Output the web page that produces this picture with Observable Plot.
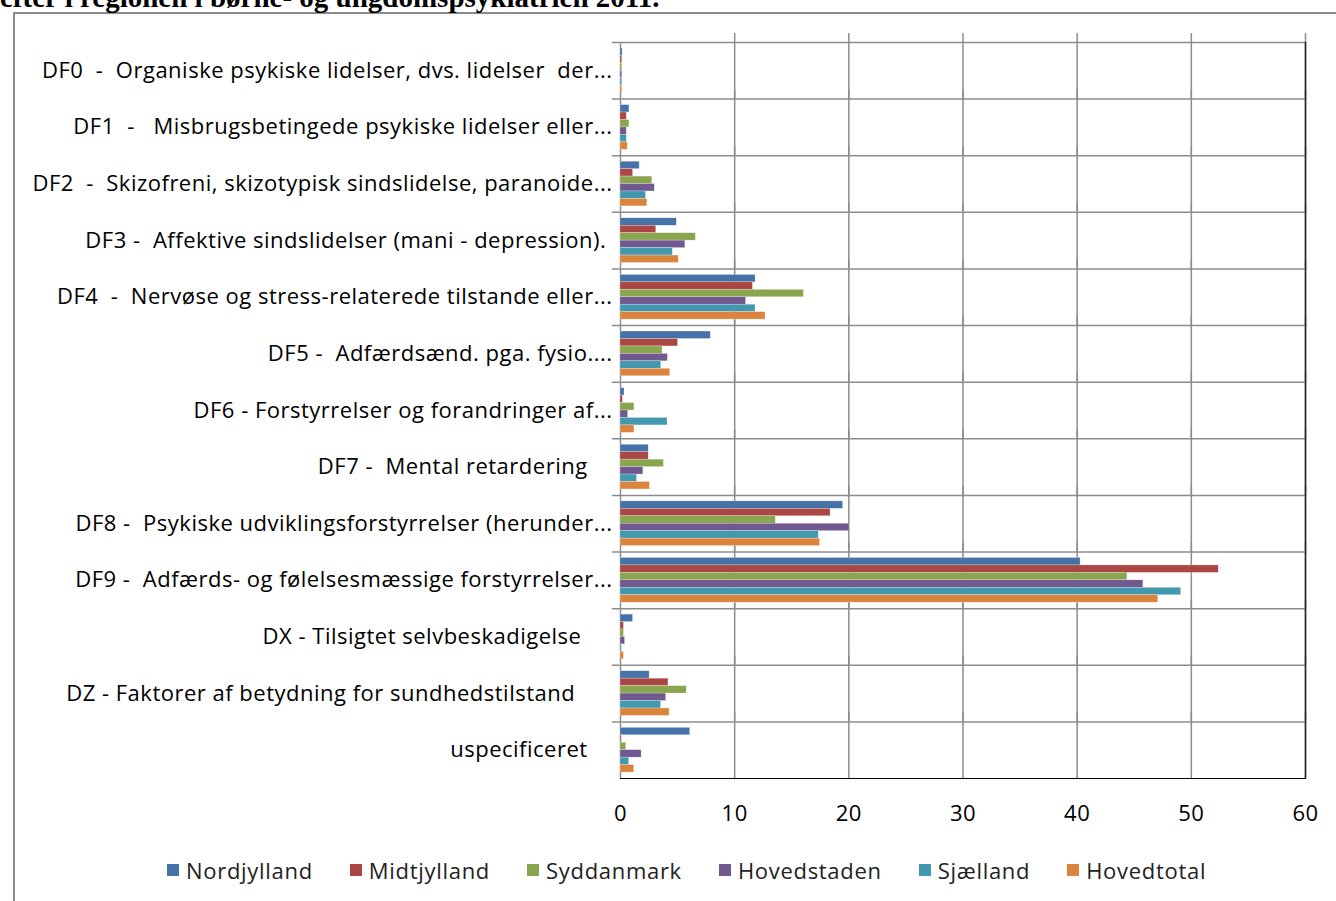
<!DOCTYPE html>
<html>
<head>
<meta charset="utf-8">
<script src="https://cdn.jsdelivr.net/npm/d3@7"></script>
<script src="https://cdn.jsdelivr.net/npm/@observablehq/plot@0.6"></script>
<style>
  html, body { margin: 0; padding: 0; background: #fff; width: 1336px; height: 901px; overflow: hidden; }
  #box { position: absolute; left: 13px; top: 12px; width: 1400px; height: 1000px;
         border-left: 2px solid #8c8c8c; border-top: 2px solid #8c8c8c; }
  #title { position: absolute; left: 0; top: 0; }
  #chart { position: absolute; left: 0; top: 0; }
  #chart svg text { white-space: pre; letter-spacing: 0.5px; }
  #legend { position: absolute; left: 167px; top: 855px; display: flex; align-items: center;
            font-family: "Open Sans", sans-serif; font-size: 22px; letter-spacing: 0.7px; color: #222; }
  .item { display: flex; align-items: center; margin-right: 37px; }
  .sw { width: 12px; height: 12px; margin-right: 7px; }
</style>
</head>
<body>
<div id="box"></div>
<svg id="title" width="900" height="14"><text x="0" y="7" font-family="Liberation Serif" font-weight="bold" font-size="29">efter i regionen i børne- og ungdomspsykiatrien 2011.</text></svg>
<div id="chart"></div>
<div id="legend"></div>
<script>
const categories = [
  "DF0  -  Organiske psykiske lidelser, dvs. lidelser  der...",
  "DF1  -   Misbrugsbetingede psykiske lidelser eller...",
  "DF2  -  Skizofreni, skizotypisk sindslidelse, paranoide...",
  "DF3 -  Affektive sindslidelser (mani - depression). ",
  "DF4  -  Nervøse og stress-relaterede tilstande eller...",
  "DF5 -  Adfærdsænd. pga. fysio....",
  "DF6 - Forstyrrelser og forandringer af...",
  "DF7 -  Mental retardering    ",
  "DF8 -  Psykiske udviklingsforstyrrelser (herunder...",
  "DF9 -  Adfærds- og følelsesmæssige forstyrrelser...",
  "DX - Tilsigtet selvbeskadigelse     ",
  "DZ - Faktorer af betydning for sundhedstilstand      ",
  "uspecificeret    "
];
const series = ["Nordjylland", "Midtjylland", "Syddanmark", "Hovedstaden", "Sjælland", "Hovedtotal"];
const colors = ["#4572A7", "#AA4643", "#89A54E", "#71588F", "#4198AF", "#DB843D"];
const nordjylland = [0.18, 0.78, 1.68, 4.93, 11.83, 7.91, 0.35, 2.47, 19.5, 40.3, 1.1, 2.55, 6.1];
const midtjylland = [0.15, 0.55, 1.1, 3.13, 11.6, 5.04, 0.2, 2.47, 18.4, 52.4, 0.3, 4.2, 0.1];
const syddanmark  = [0.15, 0.78, 2.78, 6.6, 16.06, 3.68, 1.22, 3.8, 13.6, 44.4, 0.3, 5.8, 0.5];
const hovedstaden = [0.15, 0.55, 3.0, 5.68, 11.0, 4.15, 0.67, 2.0, 20.06, 45.8, 0.4, 4.0, 1.85];
const sjaelland   = [0.15, 0.55, 2.23, 4.58, 11.83, 3.57, 4.12, 1.45, 17.37, 49.1, 0.1, 3.55, 0.75];
const hovedtotal  = [0.15, 0.64, 2.35, 5.1, 12.7, 4.35, 1.22, 2.58, 17.48, 47.1, 0.3, 4.3, 1.2];
const xTicks = [0, 10, 20, 30, 40, 50, 60];

const seriesValues = [nordjylland, midtjylland, syddanmark, hovedstaden, sjaelland, hovedtotal];
const data = [];
categories.forEach((c, i) => {
  series.forEach((s, j) => data.push({category: c, series: s, value: seriesValues[j][i]}));
});

const chart = Plot.plot({
  width: 1336,
  height: 828,
  marginLeft: 620,
  marginRight: 31,
  marginTop: 42,
  marginBottom: 50,
  style: {fontFamily: "'Open Sans', sans-serif", fontSize: "22px", color: "#000", background: "transparent", overflow: "visible"},
  x: {domain: [0, 60], ticks: xTicks, label: null, tickSize: 0, tickPadding: 27, line: true},
  y: {domain: series, axis: null, paddingInner: 0, paddingOuter: 0.8, round: false},
  fy: {domain: categories, label: null, padding: 0, round: false, tickSize: 0, tickPadding: 8, axis: "left"},
  color: {domain: series, range: colors},
  marks: [
    Plot.ruleX(xTicks.slice(1, -1), {stroke: "#8c8c8c", strokeWidth: 1.5, insetTop: -9}),
    Plot.ruleX([60], {stroke: "#8c8c8c", strokeWidth: 1.5, insetTop: -9}),
    Plot.frame({anchor: "top", insetLeft: -8, stroke: "#8c8c8c", strokeWidth: 1.5}),
    Plot.ruleX([0], {stroke: "#8c8c8c", strokeWidth: 1.5}),
    Plot.barX(data, {x: "value", y: "series", fy: "category", fill: "series", stroke: "#fff", strokeOpacity: 0.5, strokeWidth: 0.5}),
    Plot.ruleX([60], {stroke: "#222", strokeWidth: 1.5})
  ]
});
document.getElementById("chart").appendChild(chart);

const legend = document.getElementById("legend");
series.forEach((s, j) => {
  const it = document.createElement("div");
  it.className = "item";
  const sw = document.createElement("div");
  sw.className = "sw";
  sw.style.background = colors[j];
  const t = document.createElement("span");
  t.textContent = s;
  it.appendChild(sw);
  it.appendChild(t);
  legend.appendChild(it);
});
</script>
</body>
</html>
